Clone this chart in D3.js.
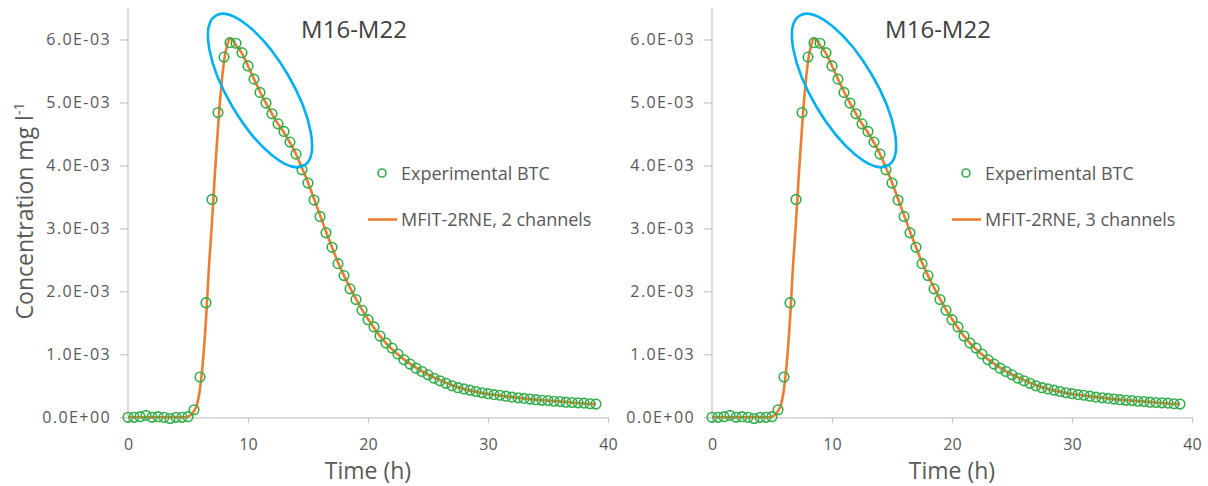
<!DOCTYPE html>
<html>
<head>
<meta charset="utf-8">
<script src="https://cdn.jsdelivr.net/npm/d3@7"></script>
<style>
  html, body { margin: 0; padding: 0; background: #fff; }
  svg { display: block; font-family: "Open Sans", sans-serif; }
</style>
</head>
<body>
<svg id="chart" width="1208" height="486"></svg>
<script>
// ---- data ----
const panelTitles = ["M16-M22", "M16-M22"];
const modelNames = ["MFIT-2RNE, 2 channels", "MFIT-2RNE, 3 channels"];
const expName = "Experimental BTC";

const expTime = [0, 0.5, 1, 1.5, 2, 2.5, 3, 3.5, 4, 4.5, 5, 5.5, 6, 6.5, 7, 7.5, 8, 8.5, 9, 9.5,
  10, 10.5, 11, 11.5, 12, 12.5, 13, 13.5, 14, 14.5, 15, 15.5, 16, 16.5, 17, 17.5, 18, 18.5, 19, 19.5,
  20, 20.5, 21, 21.5, 22, 22.5, 23, 23.5, 24, 24.5, 25, 25.5, 26, 26.5, 27, 27.5, 28, 28.5, 29, 29.5,
  30, 30.5, 31, 31.5, 32, 32.5, 33, 33.5, 34, 34.5, 35, 35.5, 36, 36.5, 37, 37.5, 38, 38.5, 39];
const expConc = [0, 0, 0.00001, 0.00003, 0, 0.00001, 0, -0.00002, 0, 0, 0.00001, 0.00012, 0.00064, 0.00182, 0.00346, 0.00484, 0.00572, 0.00595, 0.00594, 0.00579,
  0.00558, 0.00537, 0.00516, 0.00499, 0.00482, 0.00466, 0.00454, 0.00437, 0.00418, 0.00393, 0.00372, 0.00345, 0.00319, 0.00293, 0.00270, 0.00244, 0.00225, 0.00204, 0.00187, 0.00170,
  0.00155, 0.001435, 0.00129, 0.00118, 0.00110, 0.001005, 0.000914, 0.000845, 0.00078, 0.000727, 0.000674, 0.00062, 0.00058, 0.00054, 0.00050, 0.00047, 0.00045, 0.00043, 0.00041, 0.00039,
  0.000375, 0.00036, 0.00035, 0.000335, 0.00032, 0.00031, 0.00030, 0.00029, 0.00028, 0.00027, 0.000265, 0.000255, 0.00025, 0.00024, 0.000235, 0.00023, 0.000225, 0.000215, 0.00021];

const modelTime = [0, 4.5, 5, 5.25, 5.5, 5.75, 6, 6.25, 6.5, 6.75, 7, 7.25, 7.5, 7.75, 8, 8.25, 8.5, 8.75, 9, 9.5,
  10, 10.5, 11, 11.5, 12, 12.5, 13, 13.5, 14, 14.5, 15, 15.5, 16, 16.5, 17, 17.5, 18, 18.5, 19, 19.5,
  20, 21, 22, 23, 24, 25, 26, 27, 28, 29, 30, 31, 32, 33, 34, 35, 36, 37, 38, 39];
const modelConc = [0, 0, 0.00001, 0.00004, 0.0001, 0.0002, 0.00045, 0.0009, 0.00155, 0.0024, 0.0031, 0.0039, 0.0046, 0.0052, 0.00565, 0.0059, 0.00601, 0.00598, 0.00591, 0.00578,
  0.00558, 0.00537, 0.00517, 0.00499, 0.00482, 0.00466, 0.00452, 0.00436, 0.00418, 0.00396, 0.00373, 0.00347, 0.00321, 0.00295, 0.00270, 0.00246, 0.00225, 0.00206, 0.00188, 0.00171,
  0.00156, 0.00129, 0.00108, 0.00092, 0.00079, 0.00068, 0.00059, 0.00051, 0.00045, 0.000405, 0.00037, 0.000345, 0.00032, 0.00030, 0.00028, 0.000265, 0.00025, 0.000235, 0.00022, 0.00021];

const xTicks = [0, 10, 20, 30, 40];
const yTicks = [0, 0.001, 0.002, 0.003, 0.004, 0.005, 0.006];
const xTitle = "Time (h)";
const highlight = { t: 11, c: 0.00519 };

// ---- layout ----
const panelOffsets = [0, 584];
const plotLeft = 128, plotRight = 608, plotTop = 8, plotBottom = 417.3;
const colGreen = "#33ad4a", colOrange = "#ed7d31", colBlue = "#00b0f0";
const colText = "#595959", colAxis = "#c8c8c8";

const svg = d3.select("#chart");
svg.append("rect").attr("width", 1208).attr("height", 486).attr("fill", "#fff");

function fmtE(v) {
  const s = v.toExponential(1);
  let [m, e] = s.split("e");
  const sign = e[0] === "-" ? "-" : "+";
  e = e.replace(/[+-]/, "");
  return m + "E" + sign + e.padStart(2, "0");
}

panelOffsets.forEach((off, i) => {
  const g = svg.append("g").attr("transform", `translate(${off},0)`);
  const x = d3.scaleLinear().domain([0, 40]).range([plotLeft, plotRight]);
  const y = d3.scaleLinear().domain([0, 0.0065]).range([plotBottom, plotTop]);

  // axes
  const xa = g.append("g").attr("transform", `translate(0,${plotBottom})`)
    .call(d3.axisBottom(x).tickValues(xTicks).tickSize(6).tickPadding(15).tickSizeOuter(0));
  const ya = g.append("g").attr("transform", `translate(${plotLeft},0)`)
    .call(d3.axisLeft(y).tickValues(yTicks).tickFormat(fmtE).tickSize(8).tickPadding(9).tickSizeOuter(0));
  [xa, ya].forEach(a => {
    a.select(".domain").attr("stroke", colAxis).attr("stroke-width", 1.3);
    a.selectAll(".tick line").attr("stroke", colAxis).attr("stroke-width", 1.3);
    a.selectAll(".tick text").attr("fill", colText).attr("font-size", 16)
      .attr("font-family", '"Open Sans", sans-serif');
  });
  ya.selectAll(".tick text").attr("letter-spacing", 1.4);
  ya.select(".domain").attr("d", `M0,${plotTop}V${plotBottom}`);

  // model line
  const line = d3.line().x((d, k) => x(modelTime[k])).y(d => y(d)).curve(d3.curveMonotoneX);
  g.append("path").datum(modelConc).attr("d", line)
    .attr("fill", "none").attr("stroke", colOrange).attr("stroke-width", 2.6);

  // experimental points
  g.append("g").selectAll("circle").data(expConc).join("circle")
    .attr("cx", (d, k) => x(expTime[k])).attr("cy", d => y(d)).attr("r", 4.8)
    .attr("fill", "none").attr("stroke", colGreen).attr("stroke-width", 1.6);

  // highlight ellipse
  const cx = x(highlight.t), cy = y(highlight.c);
  g.append("ellipse").attr("cx", 0).attr("cy", 0).attr("rx", 87).attr("ry", 32)
    .attr("transform", `translate(${cx},${cy}) rotate(59.5)`)
    .attr("fill", "none").attr("stroke", colBlue).attr("stroke-width", 2.6);

  // title
  g.append("text").attr("x", 354).attr("y", 38).attr("text-anchor", "middle")
    .attr("font-size", 24).attr("fill", "#404040").text(panelTitles[i]);

  // x title
  g.append("text").attr("x", x(20)).attr("y", 479).attr("text-anchor", "middle")
    .attr("font-size", 23).attr("fill", colText).text(xTitle);

  // legend
  g.append("circle").attr("cx", 382).attr("cy", 173).attr("r", 4)
    .attr("fill", "none").attr("stroke", colGreen).attr("stroke-width", 1.6);
  g.append("text").attr("x", 401).attr("y", 180).attr("font-size", 18).attr("fill", colText).text(expName);
  g.append("line").attr("x1", 368).attr("x2", 397).attr("y1", 219.5).attr("y2", 219.5)
    .attr("stroke", colOrange).attr("stroke-width", 2.6);
  g.append("text").attr("x", 401).attr("y", 226).attr("font-size", 18).attr("fill", colText).text(modelNames[i]);
});

// y-axis title (left panel only)
const yt = svg.append("text").attr("transform", "translate(33,211) rotate(-90)")
  .attr("text-anchor", "middle").attr("font-size", 23).attr("fill", colText);
yt.append("tspan").text("Concentration mg l");
yt.append("tspan").attr("font-size", 14).attr("dy", -9).text("-1");
</script>
</body>
</html>
